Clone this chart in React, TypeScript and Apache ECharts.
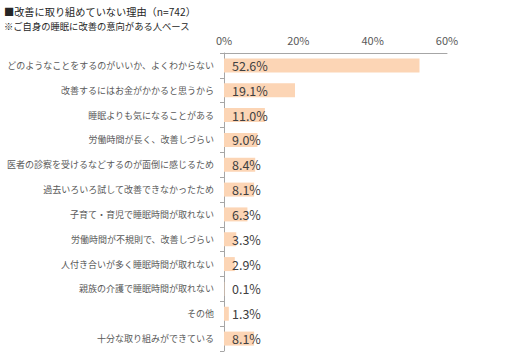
import React, { useEffect, useRef } from "react";
import * as echarts from "echarts";

const categories = [
  "どのようなことをするのがいいか、よくわからない",
  "改善するにはお金がかかると思うから",
  "睡眠よりも気になることがある",
  "労働時間が長く、改善しづらい",
  "医者の診察を受けるなどするのが面倒に感じるため",
  "過去いろいろ試して改善できなかったため",
  "子育て・育児で睡眠時間が取れない",
  "労働時間が不規則で、改善しづらい",
  "人付き合いが多く睡眠時間が取れない",
  "親族の介護で睡眠時間が取れない",
  "その他",
  "十分な取り組みができている",
];
const values = [52.6, 19.1, 11.0, 9.0, 8.4, 8.1, 6.3, 3.3, 2.9, 0.1, 1.3, 8.1];
const xTicks = [0, 20, 40, 60];
const titleLines = ["■改善に取り組めていない理由（n=742）", "※ご自身の睡眠に改善の意向がある人ベース"];

const FONT = "'Noto Sans CJK JP', 'Noto Sans', sans-serif";

export default function App() {
  const ref = useRef<HTMLDivElement>(null);
  useEffect(() => {
    document.body.style.margin = "0";
    const chart = echarts.init(ref.current!, undefined, { renderer: "svg" });
    chart.setOption({
      animation: false,
      textStyle: { fontFamily: FONT },
      graphic: [
        {
          type: "text",
          left: 4,
          top: 6,
          style: { text: titleLines[0], fontSize: 10.2, fill: "#262626", fontFamily: FONT },
        },
        {
          type: "text",
          left: 4,
          top: 21,
          style: { text: titleLines[1], fontSize: 9.3, fill: "#262626", fontFamily: FONT },
        },
      ],
      grid: { left: 224, top: 53, width: 223, height: 298, outerBoundsMode: "none", containLabel: false },
      xAxis: {
        type: "value",
        position: "top",
        min: xTicks[0],
        max: xTicks[xTicks.length - 1],
        interval: 20,
        axisLine: { show: true, lineStyle: { color: "#A6A6A6", width: 1 } },
        axisTick: { show: false },
        splitLine: { show: false },
        axisLabel: {
          formatter: (v: number) => `${v}%`,
          color: "#595959",
          fontSize: 11,
          fontFamily: FONT,
          margin: 8,
        },
      },
      yAxis: {
        type: "category",
        data: categories,
        inverse: true,
        axisLine: { show: true, lineStyle: { color: "#A6A6A6", width: 1 } },
        axisTick: { show: true, length: 4, lineStyle: { color: "#A6A6A6" } },
        axisLabel: { color: "#595959", fontSize: 9, fontFamily: FONT, margin: 10 },
      },
      series: [
        {
          type: "bar",
          data: values,
          barWidth: 14,
          itemStyle: { color: "#FCD5B5" },
          label: {
            show: true,
            position: "insideLeft",
            distance: 8,
            formatter: (p: any) => `${p.value.toFixed(1)}%`,
            color: "#404040",
            fontSize: 12.5,
            fontFamily: FONT,
          },
        },
      ],
    });
    return () => chart.dispose();
  }, []);
  return <div ref={ref} style={{ width: 505, height: 353 }} />;
}
